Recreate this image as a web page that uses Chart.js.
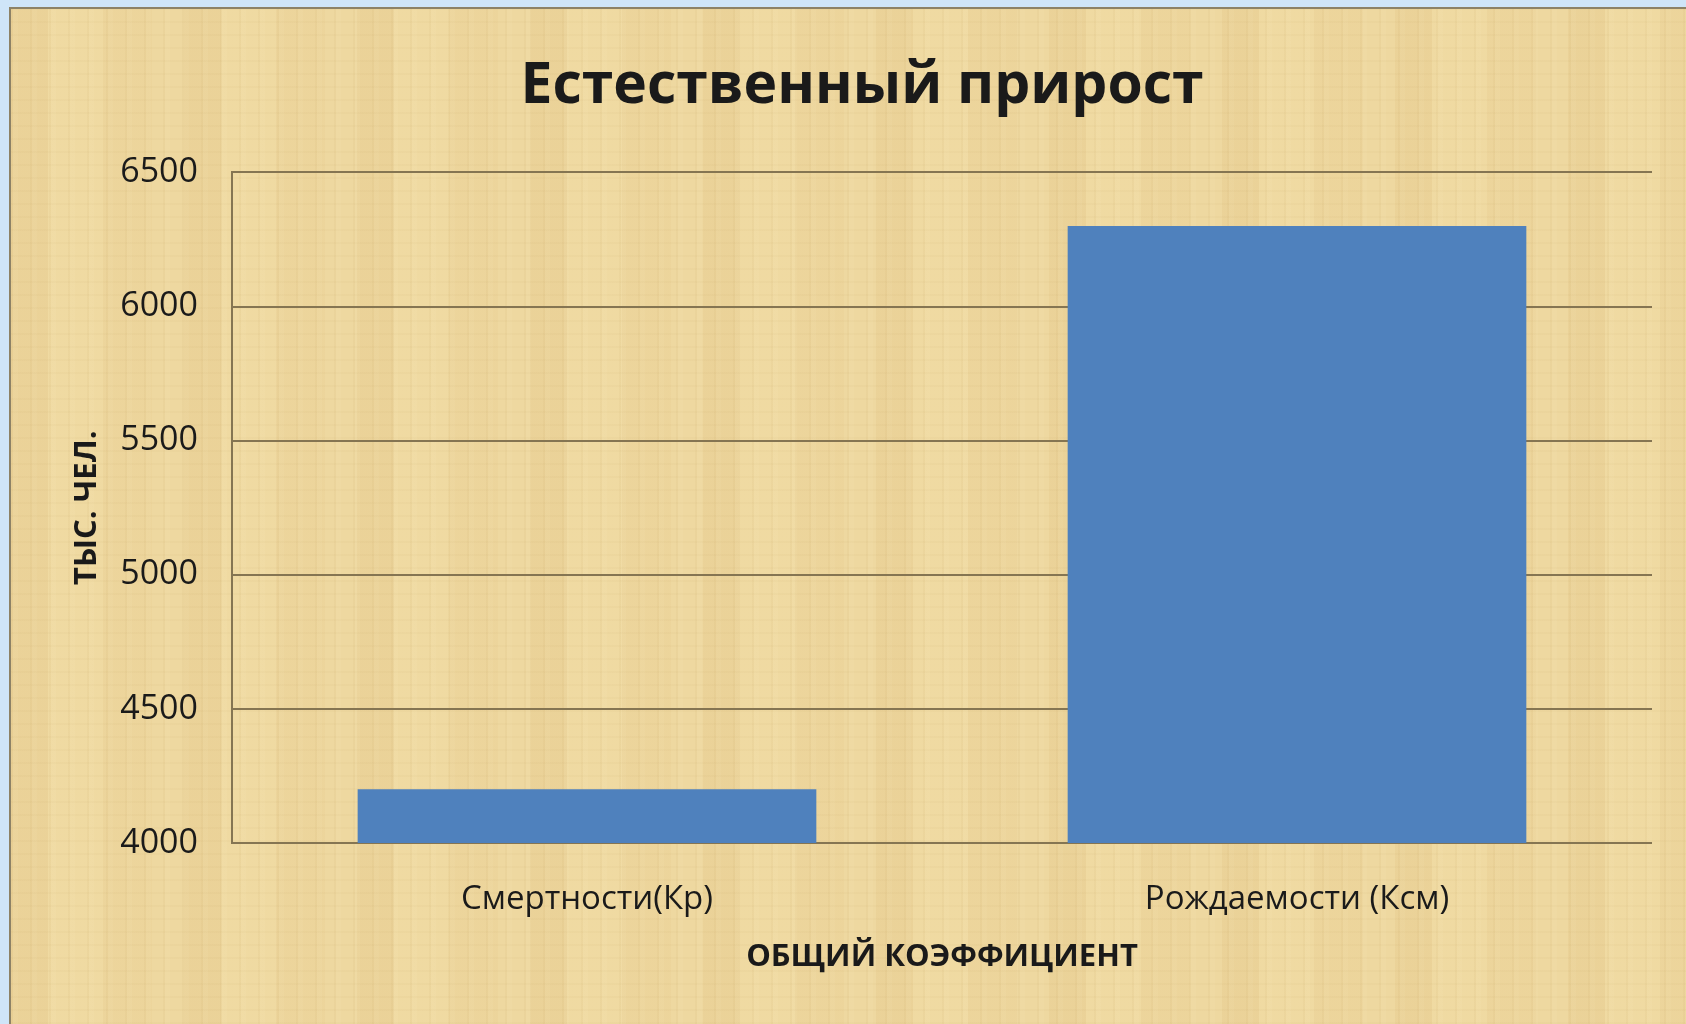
<!DOCTYPE html>
<html>
<head>
<meta charset="utf-8">
<script src="https://cdn.jsdelivr.net/npm/chart.js@4"></script>
<style>
  html, body { margin: 0; padding: 0; width: 1686px; height: 1024px; overflow: hidden; background: #cfe5f8; }
  #frame {
    position: absolute; left: 9px; top: 7px; width: 1766px; height: 1030px;
    border-left: 2px solid #8d8266; border-top: 2px solid #8d8266;
    box-sizing: border-box;
    background-color: #eed8a0;
    background-image:
      repeating-linear-gradient(90deg, rgba(170,130,60,0.05) 0px, rgba(170,130,60,0.05) 2px, rgba(255,245,210,0.06) 2px, rgba(255,245,210,0.06) 7px, rgba(0,0,0,0) 7px, rgba(0,0,0,0) 19px),
      repeating-linear-gradient(0deg, rgba(160,120,50,0.035) 0px, rgba(160,120,50,0.035) 2px, rgba(0,0,0,0) 2px, rgba(0,0,0,0) 13px),
      repeating-linear-gradient(90deg, rgba(205,160,85,0.10) 0px, rgba(205,160,85,0.10) 37px, rgba(250,232,175,0.12) 37px, rgba(250,232,175,0.12) 92px, rgba(215,170,95,0.07) 92px, rgba(215,170,95,0.07) 141px, rgba(0,0,0,0) 141px, rgba(0,0,0,0) 173px);
  }
  #wrap { position: absolute; left: 0; top: 0; width: 1641px; height: 1015px; }
</style>
</head>
<body>
<div id="frame"><div id="wrap"><canvas id="c"></canvas></div></div>
<script>
const categories = ["Смертности(Кр)", "Рождаемости (Ксм)"];
const values = [4200, 6300];
const yTicks = [4000, 4500, 5000, 5500, 6000, 6500];
const titleText = "Естественный прирост";
const yTitle = "ТЫС. ЧЕЛ.";
const xTitle = "ОБЩИЙ КОЭФФИЦИЕНТ";

const gridColor = "#857552";
const textColor = "#1a1a1a";

new Chart(document.getElementById("c"), {
  type: "bar",
  data: {
    labels: categories,
    datasets: [{
      data: values,
      backgroundColor: "#4f81bd",
      borderWidth: 0,
      barPercentage: 0.646,
      categoryPercentage: 1.0
    }]
  },
  options: {
    responsive: true,
    maintainAspectRatio: false,
    animation: false,
    layout: { padding: { left: 61, right: 0, top: 0, bottom: 0 } },
    plugins: {
      legend: { display: false },
      tooltip: { enabled: false },
      title: {
        display: true,
        text: titleText,
        color: textColor,
        font: { family: "'Open Sans'", size: 57, weight: "bold" },
        padding: { top: 44, bottom: 51 }
      }
    },
    scales: {
      x: {
        afterFit: (scale) => { scale.height = 181; },
        grid: { display: false, drawTicks: false },
        border: { display: false },
        ticks: {
          color: textColor,
          font: { family: "'Open Sans'", size: 33 },
          padding: 37
        },
        title: {
          display: true,
          text: xTitle,
          color: textColor,
          font: { family: "'Open Sans'", size: 31, weight: "bold" },
          padding: { top: 10, bottom: 48 }
        }
      },
      y: {
        min: 4000,
        max: 6500,
        afterBuildTicks: (scale) => { scale.ticks = yTicks.map(v => ({ value: v })); },
        afterFit: (scale) => { scale.width = 160; },
        grid: { color: gridColor, lineWidth: 2, drawTicks: false },
        border: { display: true, color: gridColor, width: 2 },
        ticks: {
          color: textColor,
          font: { family: "'Open Sans'", size: 34 },
          padding: 34,
          callback: (v) => String(v)
        },
        title: {
          display: true,
          text: yTitle,
          color: textColor,
          font: { family: "'Open Sans'", size: 31, weight: "bold", lineHeight: 1.0 },
          padding: { top: 0, bottom: 0 }
        }
      }
    }
  }
});
</script>
</body>
</html>
